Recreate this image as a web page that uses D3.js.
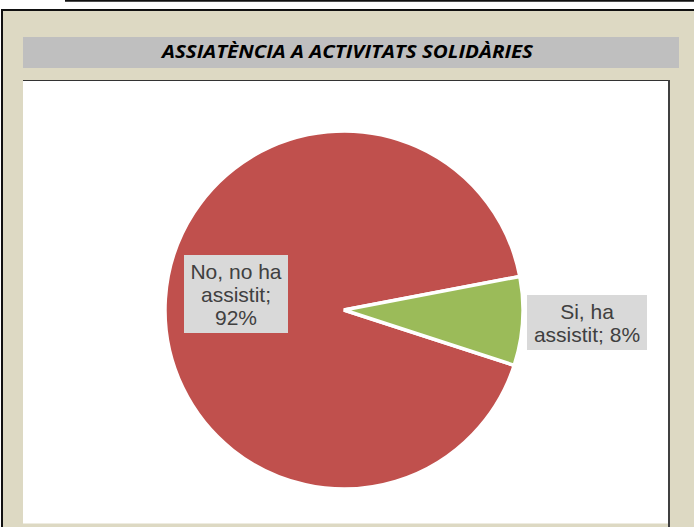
<!DOCTYPE html>
<html>
<head>
<meta charset="utf-8">
<script src="https://cdn.jsdelivr.net/npm/d3@7"></script>
<style>
  html, body { margin: 0; padding: 0; background: #ffffff; }
  svg { display: block; }
</style>
</head>
<body>
<script>
// Chart data
const title = "ASSIATÈNCIA A ACTIVITATS SOLIDÀRIES";
const categories = ["No, no ha assistit", "Si, ha assistit"];
const values = [92, 8];
const labelLines = [["No, no ha", "assistit;", "92%"], ["Si, ha", "assistit; 8%"]];
const colors = ["#c0504d", "#9bbb59"];

const W = 694, H = 527;
const svg = d3.select("body").append("svg").attr("width", W).attr("height", H);

// Page rule above the frame
svg.append("line").attr("x1", 65).attr("x2", W).attr("y1", 0.8).attr("y2", 0.8)
  .attr("stroke", "#111").attr("stroke-width", 1.8);

// Outer beige frame
svg.append("rect").attr("x", 2).attr("y", 10).attr("width", W).attr("height", H)
  .attr("fill", "#ddd9c3").attr("stroke", "#111").attr("stroke-width", 2);

// Title bar
svg.append("rect").attr("x", 23).attr("y", 37).attr("width", 656).attr("height", 31)
  .attr("fill", "#bfbfbf");
svg.append("text").attr("x", 347.5).attr("y", 57.5)
  .attr("text-anchor", "middle")
  .attr("font-family", "'Open Sans', 'DejaVu Sans', sans-serif")
  .attr("font-weight", "bold").attr("font-style", "italic")
  .attr("font-size", 17.5)
  .attr("textLength", 371).attr("lengthAdjust", "spacingAndGlyphs")
  .attr("fill", "#000").text(title);

// Plot area
svg.append("rect").attr("x", 23).attr("y", 80).attr("width", 646).attr("height", 443.5)
  .attr("fill", "#ffffff");
svg.append("line").attr("x1", 23).attr("x2", 670).attr("y1", 80.5).attr("y2", 80.5)
  .attr("stroke", "#333").attr("stroke-width", 1);
svg.append("line").attr("x1", 669).attr("x2", 669).attr("y1", 80).attr("y2", H)
  .attr("stroke", "#404040").attr("stroke-width", 2);

// Pie
const cx = 344, cy = 310, r = 179;
const startDeg = 108;
const pie = d3.pie().sort(null).value(d => d)
  .startAngle(startDeg * Math.PI / 180)
  .endAngle((startDeg + 360) * Math.PI / 180);
const arc = d3.arc().innerRadius(0).outerRadius(r);
const arcs = pie(values);

const g = svg.append("g").attr("transform", `translate(${cx},${cy})`);
g.selectAll("path").data(arcs).join("path")
  .attr("d", arc)
  .attr("fill", (d, i) => colors[i])
  .attr("stroke", "#ffffff")
  .attr("stroke-width", 3.5)
  .attr("stroke-linejoin", "miter");

// Data labels
const labelBoxes = [
  { x: 184, y: 255, w: 104, h: 78 },
  { x: 527, y: 295, w: 120, h: 55 }
];
const lineH = 23;
labelLines.forEach((lines, i) => {
  const b = labelBoxes[i];
  svg.append("rect").attr("x", b.x).attr("y", b.y).attr("width", b.w).attr("height", b.h)
    .attr("fill", "#d9d9d9");
  const mid = b.x + b.w / 2;
  const firstBase = b.y + b.h / 2 - (lines.length - 1) * lineH / 2 + 7.5;
  const t = svg.append("text")
    .attr("text-anchor", "middle")
    .attr("font-family", "'Liberation Sans', Arial, sans-serif")
    .attr("font-size", 21)
    .attr("fill", "#404040");
  lines.forEach((ln, j) => {
    t.append("tspan").attr("x", mid).attr("y", firstBase + j * lineH).text(ln);
  });
});
</script>
</body>
</html>
